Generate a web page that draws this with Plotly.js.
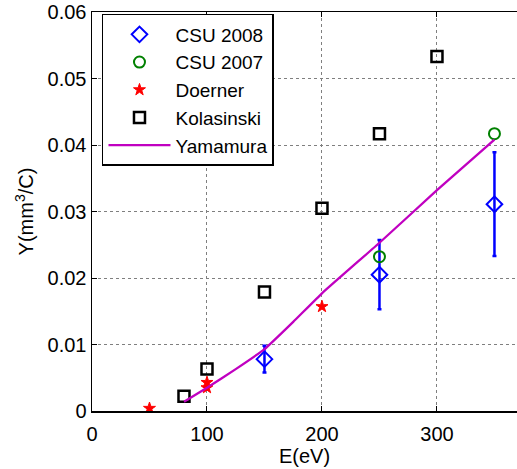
<!DOCTYPE html>
<html>
<head>
<meta charset="utf-8">
<script src="https://cdn.plot.ly/plotly-3.0.1.min.js"></script>
<style>html,body{margin:0;padding:0;background:#fff;}#chart{width:517px;height:469px;}</style>
</head>
<body>
<div id="chart"></div>
<script>
// CSU 2008 (with error bars)
var csu2008X = [150, 250, 350];
var csu2008Y = [0.0078, 0.0205, 0.0311];
var csu2008Err = [0.0020, 0.0052, 0.0078];
// CSU 2007
var csu2007X = [250, 350];
var csu2007Y = [0.0232, 0.0417];
// Doerner
var doernerX = [50, 100, 100, 200];
var doernerY = [0.0004, 0.0043, 0.0035, 0.0157];
// Kolasinski
var kolX = [80, 100, 150, 200, 250, 300];
var kolY = [0.0022, 0.0063, 0.0179, 0.0305, 0.0417, 0.0533];
// Yamamura
var yamX = [80, 100, 125, 150, 175, 200, 250, 300, 350];
var yamY = [0.0014, 0.0035, 0.0063, 0.0093, 0.0134, 0.0177, 0.0253, 0.0332, 0.0408];
// Axis ticks
var xTicks = [0, 100, 200, 300];
var yTicks = [0, 0.01, 0.02, 0.03, 0.04, 0.05, 0.06];
var yTickText = ['0', '0.01', '0.02', '0.03', '0.04', '0.05', '0.06'];

var FONT = 'Liberation Sans, Arial, sans-serif';

var traces = [
  {x: csu2008X, y: csu2008Y, name: 'CSU 2008', type: 'scatter', mode: 'markers',
   marker: {symbol: 'diamond-open', size: 12, color: '#0000ff', line: {width: 2, color: '#0000ff'}},
   error_y: {type: 'data', array: csu2008Err, visible: true, color: '#0000ff', thickness: 2.5, width: 2}},
  {x: csu2007X, y: csu2007Y, name: 'CSU 2007', type: 'scatter', mode: 'markers',
   marker: {symbol: 'circle-open', size: 11, color: '#008000', line: {width: 2, color: '#008000'}}},
  {x: doernerX, y: doernerY, name: 'Doerner', type: 'scatter', mode: 'markers',
   marker: {symbol: 'star', size: 9, color: '#ff0000', line: {width: 1, color: '#ff0000'}}},
  {x: kolX, y: kolY, name: 'Kolasinski', type: 'scatter', mode: 'markers',
   marker: {symbol: 'square-open', size: 11, color: '#000000', line: {width: 2.5, color: '#000000'}}},
  {x: yamX, y: yamY, name: 'Yamamura', type: 'scatter', mode: 'lines',
   line: {color: '#c000c0', width: 2.3, shape: 'spline', smoothing: 0.3}}
];

var layout = {
  width: 517, height: 469,
  margin: {l: 92, r: 0, t: 12, b: 58},
  paper_bgcolor: '#ffffff', plot_bgcolor: '#ffffff',
  font: {family: FONT, size: 20, color: '#000'},
  showlegend: true,
  legend: {x: 0.0235, y: 0.995, xanchor: 'left', yanchor: 'top',
    bgcolor: '#ffffff', bordercolor: '#000', borderwidth: 1.5,
    font: {family: FONT, size: 19, color: '#000'},
    traceorder: 'normal', itemwidth: 62},
  xaxis: {range: [0, 369.6], tickvals: xTicks, ticktext: xTicks.map(String),
    ticks: 'inside', ticklen: 5, tickcolor: '#000', showline: true, linecolor: '#000', linewidth: 1.5,
    mirror: 'ticks', showgrid: true, gridcolor: '#7f7f7f', griddash: 'dot', gridwidth: 1,
    zeroline: false, tickfont: {size: 20}, ticklabelstandoff: 4,
    title: {text: 'E(eV)', font: {size: 20}, standoff: 2}},
  yaxis: {range: [0, 0.06], tickvals: yTicks, ticktext: yTickText,
    ticks: 'inside', ticklen: 5, tickcolor: '#000', showline: true, linecolor: '#000', linewidth: 1.5,
    showgrid: true, gridcolor: '#7f7f7f', griddash: 'dot', gridwidth: 1,
    zeroline: false, tickfont: {size: 20},
    title: {text: 'Y(mm<sup>3</sup>/C)', font: {size: 20}, standoff: 8}}
};

Plotly.newPlot('chart', traces, layout, {displayModeBar: false, staticPlot: true});
</script>
</body>
</html>
